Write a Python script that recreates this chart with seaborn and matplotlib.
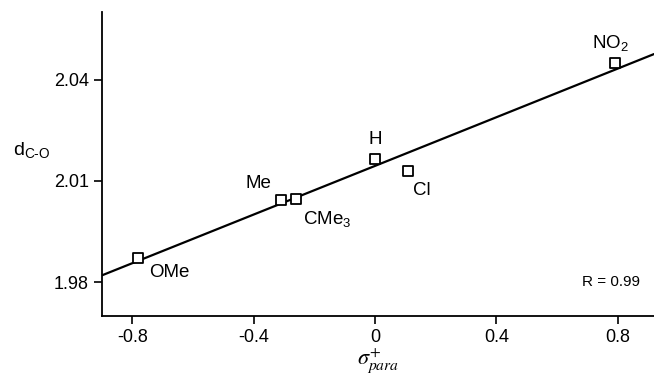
import matplotlib
matplotlib.use("Agg")
import matplotlib.pyplot as plt
import seaborn as sns
import numpy as np
import pandas as pd

substituents = ["OMe", "Me", "CMe$_3$", "H", "Cl", "NO$_2$"]
sigma_para = [-0.78, -0.31, -0.26, 0.0, 0.11, 0.79]
d_co = [1.9873, 2.0043, 2.0046, 2.0165, 2.0130, 2.0448]
x_ticks = [-0.8, -0.4, 0.0, 0.4, 0.8]
x_ticklabels = ["-0.8", "-0.4", "0", "0.4", "0.8"]
y_ticks = [1.98, 2.01, 2.04]
y_ticklabels = ["1.98", "2.01", "2.04"]
r_text = "R = 0.99"

# label offsets in points
offsets = [(8, -11, "left"), (-7, 12, "right"), (5, -14, "left"),
           (0, 14, "center"), (3, -14, "left"), (-3, 15, "center")]

sns.set_style("ticks")
plt.rcParams["font.family"] = ["Liberation Sans", "DejaVu Sans"]
plt.rcParams["mathtext.fontset"] = "custom"
plt.rcParams["mathtext.rm"] = "Liberation Sans"
plt.rcParams["mathtext.it"] = "Liberation Sans:italic"
plt.rcParams["text.color"] = "black"
plt.rcParams["axes.labelcolor"] = "black"

df = pd.DataFrame({"sigma": sigma_para, "d": d_co, "name": substituents})

fig = plt.figure(figsize=(6.54, 3.78), dpi=100)
ax = fig.add_axes([0.156, 0.164, 0.844, 0.804])
ax.set_xlim(-0.9, 0.92)
ax.set_ylim(1.970, 2.06)

sns.regplot(data=df, x="sigma", y="d", ax=ax, ci=None, truncate=False,
            scatter=False, line_kws={"color": "black", "lw": 1.6})
sns.scatterplot(data=df, x="sigma", y="d", ax=ax, marker="s", s=55,
                facecolor="white", edgecolor="black", linewidth=1.3, zorder=3)

for (x, y, name), (dx, dy, ha) in zip(zip(sigma_para, d_co, substituents), offsets):
    ax.annotate(name, (x, y), xytext=(dx, dy), textcoords="offset points",
                ha=ha, va="center", fontsize=13.5, color="black")

ax.set_xlim(-0.9, 0.92)
ax.set_ylim(1.970, 2.06)
ax.set_xticks(x_ticks)
ax.set_xticklabels(x_ticklabels)
ax.set_yticks(y_ticks)
ax.set_yticklabels(y_ticklabels)
ax.tick_params(axis="both", labelsize=13, length=6, width=1.2, color="black",
               labelcolor="black", direction="out")
for s in ["top", "right"]:
    ax.spines[s].set_visible(False)
for s in ["left", "bottom"]:
    ax.spines[s].set_linewidth(1.3)
    ax.spines[s].set_color("black")

ax.set_xlabel(r"$\sigma^{+}_{para}$", fontsize=16, math_fontfamily="stix", labelpad=0)
ax.set_ylabel(r"d$_{\text{C-O}}$", fontsize=14, rotation=0, va="center", ha="center")
ax.yaxis.set_label_coords(-0.127, 0.546)

ax.text(0.975, 0.112, r_text, transform=ax.transAxes, ha="right", va="center",
        fontsize=11, color="black")

fig.savefig("out.png", dpi=100)
